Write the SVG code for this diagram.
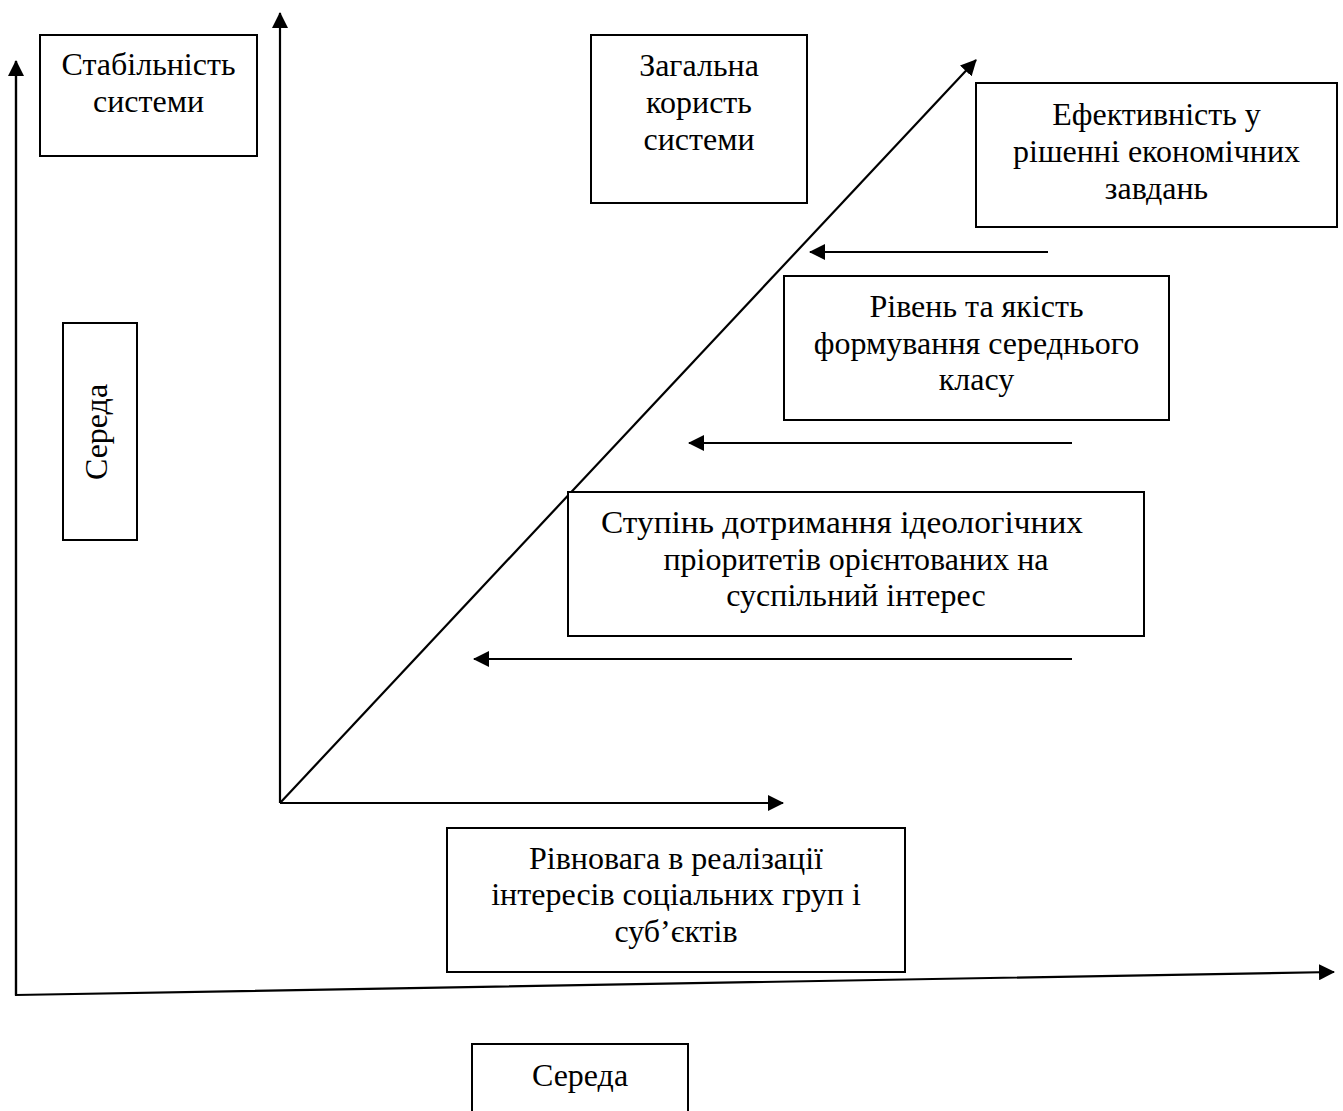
<svg xmlns="http://www.w3.org/2000/svg" width="1343" height="1111" viewBox="0 0 1343 1111">
<style>
  .box { fill: #ffffff; stroke: #000000; stroke-width: 2; }
  .lbl { font-family: "Liberation Serif", "Times New Roman", serif; font-size: 32px; fill: #000000; text-anchor: middle; }
  .ln { fill: none; stroke: #000000; stroke-width: 2.2; }
</style>
<defs>
  <marker id="ah" viewBox="0 0 16 16" refX="15" refY="8" markerWidth="16" markerHeight="16" markerUnits="userSpaceOnUse" orient="auto">
    <path d="M0,0 L16,8 L0,16 z" fill="#000000"/>
  </marker>
</defs>
<rect width="1343" height="1111" fill="#ffffff"/>

<g id="connectors">
  <polyline class="ln" points="16,61 16,995 1334,972" marker-end="url(#ah)"/>
  <line class="ln" x1="16" y1="995" x2="16" y2="61" marker-end="url(#ah)"/>
  <line class="ln" x1="280" y1="803" x2="280" y2="13" marker-end="url(#ah)"/>
  <line class="ln" x1="280" y1="803" x2="783" y2="803" marker-end="url(#ah)"/>
  <line class="ln" x1="280" y1="803" x2="976" y2="60" marker-end="url(#ah)"/>
  <line class="ln" x1="1048" y1="252" x2="810" y2="252" marker-end="url(#ah)"/>
  <line class="ln" x1="1072" y1="443" x2="689" y2="443" marker-end="url(#ah)"/>
  <line class="ln" x1="1072" y1="659" x2="474" y2="659" marker-end="url(#ah)"/>
</g>

<g id="stability">
  <rect class="box" x="40" y="35" width="217" height="121"/>
  <text class="lbl" x="148.5" y="75">Стабільність</text>
  <text class="lbl" x="148.5" y="112">системи</text>
</g>

<g id="general-utility">
  <rect class="box" x="591" y="35" width="216" height="168"/>
  <text class="lbl" x="699" y="76">Загальна</text>
  <text class="lbl" x="699" y="113">користь</text>
  <text class="lbl" x="699" y="150">системи</text>
</g>

<g id="efficiency">
  <rect class="box" x="976" y="83" width="361" height="144"/>
  <text class="lbl" x="1156.5" y="125">Ефективність у</text>
  <text class="lbl" x="1156.5" y="162">рішенні економічних</text>
  <text class="lbl" x="1156.5" y="199">завдань</text>
</g>

<g id="middle-class">
  <rect class="box" x="784" y="276" width="385" height="144"/>
  <text class="lbl" x="976.5" y="317">Рівень та якість</text>
  <text class="lbl" x="976.5" y="354">формування середнього</text>
  <text class="lbl" x="976.5" y="390">класу</text>
</g>

<g id="ideology">
  <rect class="box" x="568" y="492" width="576" height="144"/>
  <text class="lbl" x="842" y="533" textLength="482" lengthAdjust="spacingAndGlyphs">Ступінь дотримання ідеологічних</text>
  <text class="lbl" x="856" y="570">пріоритетів орієнтованих на</text>
  <text class="lbl" x="856" y="606">суспільний інтерес</text>
</g>

<g id="balance">
  <rect class="box" x="447" y="828" width="458" height="144"/>
  <text class="lbl" x="676" y="869">Рівновага в реалізації</text>
  <text class="lbl" x="676" y="905">інтересів соціальних груп і</text>
  <text class="lbl" x="676" y="942">суб’єктів</text>
</g>

<g id="environment-vertical">
  <rect class="box" x="63" y="323" width="74" height="217"/>
  <text class="lbl" transform="translate(107,432) rotate(-90)" x="0" y="0">Середа</text>
</g>

<g id="environment-bottom">
  <rect class="box" x="472" y="1044" width="216" height="80"/>
  <text class="lbl" x="580" y="1086">Середа</text>
</g>
</svg>
